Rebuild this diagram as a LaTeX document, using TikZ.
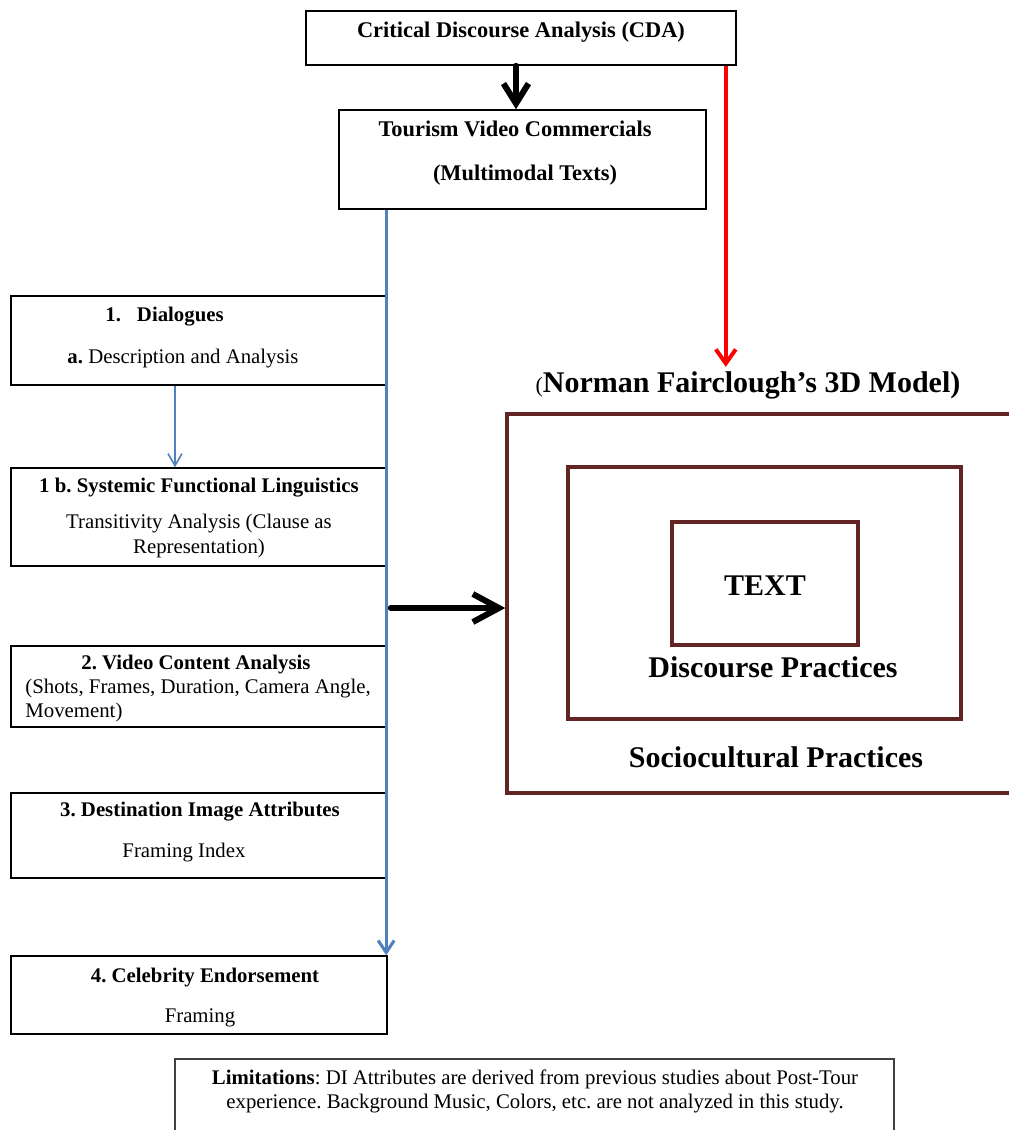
\documentclass[tikz,border=0pt]{standalone}
\usepackage{fontspec}
\setmainfont{Liberation Serif}
\usetikzlibrary{arrows.meta}
\definecolor{layerbrown}{RGB}{99,37,35}
\definecolor{flowblue}{RGB}{79,129,189}
\definecolor{limgrey}{RGB}{64,64,64}
\frenchspacing

\begin{document}
\begin{tikzpicture}[x=0.5pt,y=-0.5pt,
  box/.style={draw,line width=0.8pt,inner sep=0pt},
  layer/.style={draw=layerbrown,line width=1.8pt,inner sep=0pt},
  lbl/.style={inner sep=0pt,anchor=base,font=\fontsize{10.4}{12}\selectfont},
  ttl/.style={lbl,font=\fontsize{10.4}{12}\selectfont\bfseries},
  head/.style={lbl,font=\fontsize{11.2}{13}\selectfont\bfseries},
  big/.style={lbl,font=\fontsize{15}{18}\selectfont\bfseries},
  downarrow/.style={-{Straight Barb[length=10pt,width=12.5pt]},line width=3pt,line cap=round},
  bigarrow/.style={-{Straight Barb[length=13pt,width=14pt]},line width=3pt,line cap=round},
  redarrow/.style={red,-{Straight Barb[length=7pt,width=10pt]},line width=2pt},
  bluearrow/.style={flowblue,-{Straight Barb[length=6pt,width=8pt]},line width=1.5pt},
  thinblue/.style={flowblue,-{Straight Barb[length=6pt,width=7pt]},line width=0.8pt}]

\useasboundingbox(0,0)rectangle(1008,1130);

\node[box,minimum width=215pt,minimum height=27pt](cda)at(521,38){};
\node[box,minimum width=183.5pt,minimum height=49.5pt](tvc)at(522.5,159.5){};
\node[box,minimum width=188pt,minimum height=44.5pt](dlg)at(199,340.5){};
\node[box,minimum width=188pt,minimum height=49pt](sfl)at(199,517){};
\node[box,minimum width=188pt,minimum height=40.5pt](vca)at(199,686.5){};
\node[box,minimum width=188pt,minimum height=42.5pt](dia)at(199,835.5){};
\node[box,minimum width=188pt,minimum height=39pt](cel)at(199,995){};
\node[draw=limgrey,line width=1pt,inner sep=0pt,minimum width=359.5pt,minimum height=40.5pt](lim)at(534.5,1099.5){};
\node[layer,minimum width=266.5pt,minimum height=189.5pt](socio)at(773.5,603.5){};
\node[layer,minimum width=196.5pt,minimum height=126pt](disc)at(764.5,593){};
\node[layer,minimum width=93pt,minimum height=61.5pt](txt)at(765,583.5){};

\node[head](cdaT)at(521,37){Critical Discourse Analysis (CDA)};
\node[head](tvcT1)at(515,136){Tourism Video Commercials};
\node[head](tvcT2)at(525,180){(Multimodal Texts)};
\node[ttl,anchor=base west](dlgT1)at(105,321){1.\hspace{8pt}Dialogues};
\node[lbl](dlgT2)at(183,363){\textbf{a.} Description and Analysis};
\node[ttl](sflT1)at(199,492){1 b. Systemic Functional Linguistics};
\node[lbl](sflT2)at(199,528){Transitivity Analysis (Clause as};
\node[lbl](sflT3)at(199,553){Representation)};
\node[ttl](vcaT1)at(196,669){2. Video Content Analysis};
\node[lbl,anchor=base west](vcaT2)at(25,693){(Shots, Frames, Duration, Camera Angle,};
\node[lbl,anchor=base west](vcaT3)at(25,717){Movement)};
\node[ttl](diaT1)at(200,816){3. Destination Image Attributes};
\node[lbl](diaT2)at(184,857){Framing Index};
\node[ttl](celT1)at(205,982){4. Celebrity Endorsement};
\node[lbl](celT2)at(200,1022){Framing};
\node[big](model)at(748,392){{\mdseries\fontsize{11}{13}\selectfont(}Norman Fairclough’s 3D Model)};
\node[big](txtT)at(765,595){TEXT};
\node[big](discT)at(773,677){Discourse Practices};
\node[big](socioT)at(776,767){Sociocultural Practices};
\node[lbl](limT1)at(535,1084){\textbf{Limitations}: DI Attributes are derived from previous studies about Post-Tour};
\node[lbl](limT2)at(535,1108){experience. Background Music, Colors, etc. are not analyzed in this study.};

\coordinate(cdaout)at([xshift=-2.5pt]cda.south);
\coordinate(redout)at([xshift=-5.5pt]cda.south east);
\coordinate(blueout)at([xshift=24pt]tvc.south west);
\coordinate(dlgout)at([xshift=-12pt]dlg.south);
\coordinate(socioin)at([yshift=-2.25pt]socio.west);
\coordinate(modeltop)at([yshift=2pt]model.north);

\draw[downarrow](cdaout)--(cdaout|-tvc.north);
\draw[redarrow](redout)--(redout|-modeltop);
\draw[bluearrow](blueout)--(blueout|-cel.north);
\draw[thinblue](dlgout)--(dlgout|-sfl.north);
\draw[bigarrow]([xshift=1.5pt]socioin-|sfl.east)--(socioin);

\end{tikzpicture}
\end{document}
